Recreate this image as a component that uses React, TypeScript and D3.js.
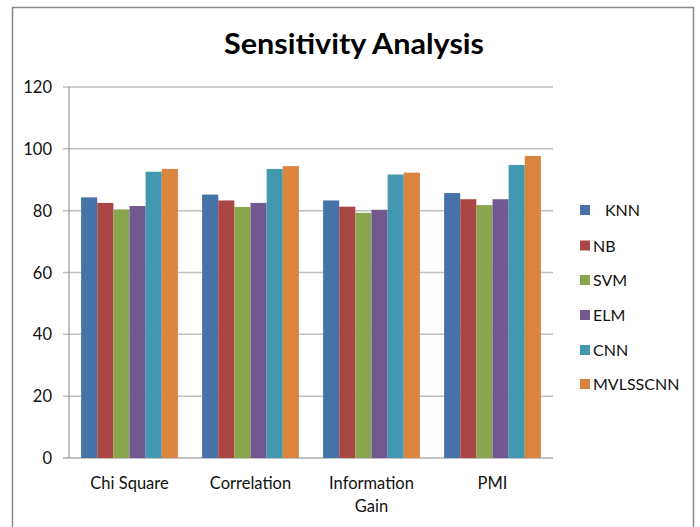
import React from "react";
import * as d3 from "d3";

const categories = ["Chi Square", "Correlation", "Information Gain", "PMI"];
const seriesNames = ["KNN", "NB", "SVM", "ELM", "CNN", "MVLSSCNN"];
const knn = [84.3, 85.2, 83.3, 85.7];
const nb = [82.5, 83.3, 81.3, 83.7];
const svm = [80.4, 81.2, 79.3, 81.8];
const elm = [81.5, 82.5, 80.3, 83.7];
const cnn = [92.6, 93.5, 91.7, 94.8];
const mvlsscnn = [93.5, 94.4, 92.3, 97.7];
const yTicks = [0, 20, 40, 60, 80, 100, 120];
const colors = ["#4572A7", "#AA4643", "#89A54E", "#71588F", "#4198AF", "#DB843D"];

const seriesValues = [knn, nb, svm, elm, cnn, mvlsscnn];

export default function App() {
  const W = 700, H = 527;
  const left = 69, right = 553, top = 87, bottom = 458;
  const y = d3.scaleLinear().domain([0, 120]).range([bottom, top]);
  const x0 = d3.scaleBand().domain(categories).range([left, right]).paddingInner(0.2).paddingOuter(0.1);
  const x1 = d3.scaleBand().domain(seriesNames).range([0, x0.bandwidth()]);
  const font = "Lato, 'Open Sans', sans-serif";
  const legendY = [210, 245.5, 280, 315, 350, 384];

  return (
    <svg width={W} height={H} style={{ position: "absolute", left: 0, top: 0 }} fontFamily={font}>
      <rect x={0} y={0} width={W} height={H} fill="#fff" />
      <rect x={12.5} y={7.5} width={681} height={540} fill="#fff" stroke="#878787" strokeWidth={1.5} />
      <text x={354} y={54} textAnchor="middle" fontSize={29} fontWeight="bold" fill="#000" textLength={260} lengthAdjust="spacingAndGlyphs">
        Sensitivity Analysis
      </text>
      {yTicks.map((t) => (
        <g key={t}>
          <line x1={63} x2={right} y1={y(t)} y2={y(t)} stroke={t === 0 ? "#868686" : "#c0c0c0"} strokeWidth={t === 0 ? 1 : 1.5} />
          <text x={52} y={y(t) + 6} textAnchor="end" fontSize={16.5} fill="#111">{t}</text>
        </g>
      ))}
      <line x1={left} x2={left} y1={top} y2={bottom} stroke="#868686" strokeWidth={1} />
      {categories.map((c, ci) => (
        <g key={c} transform={`translate(${x0(c)},0)`}>
          {seriesNames.map((s, si) => (
            <rect key={s} x={x1(s)} y={y(seriesValues[si][ci])} width={x1.bandwidth()} height={bottom - y(seriesValues[si][ci])} fill={colors[si]} />
          ))}
        </g>
      ))}
      {categories.map((c) => {
        const cx = (x0(c) as number) + x0.bandwidth() / 2;
        const words = c === "Information Gain" ? ["Information", "Gain"] : [c];
        return (
          <text key={c} x={cx} textAnchor="middle" fontSize={16.5} fill="#111">
            {words.map((w, i) => (
              <tspan key={w} x={cx} y={489 + i * 23}>{w}</tspan>
            ))}
          </text>
        );
      })}
      {seriesNames.map((s, si) => (
        <g key={s}>
          <rect x={580} y={legendY[si] - 5} width={10} height={10} fill={colors[si]} />
          <text x={si === 0 ? 605 : 593} y={legendY[si] + 6} fontSize={16} fill="#111">{s}</text>
        </g>
      ))}
    </svg>
  );
}
